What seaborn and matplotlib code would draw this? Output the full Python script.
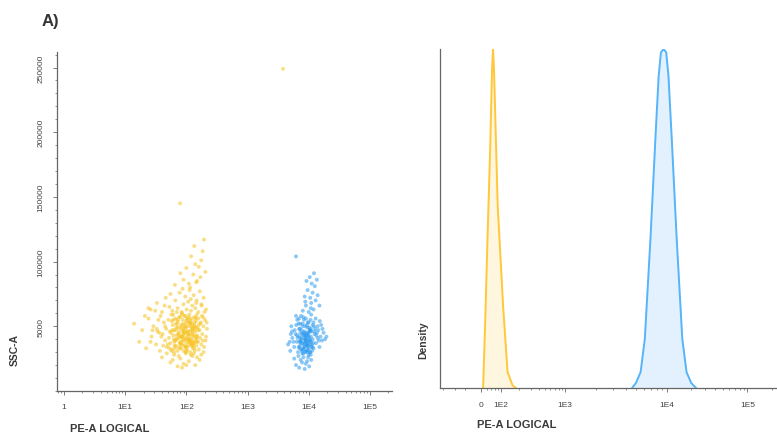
import numpy as np
import pandas as pd
import matplotlib
matplotlib.use("Agg")
import matplotlib.pyplot as plt
import matplotlib.ticker as mticker
import seaborn as sns

# ---- scatter: PE-A intensity vs SSC-A (thousands) ----
yellow_pe = [
    # 18-30k
    40, 55, 63, 72, 80, 90, 98, 110, 125, 140,
    150, 165, 48, 85, 118, 60, 100, 132, 75, 175,
    # 30-45k
    17, 22, 27, 32, 37, 41, 45, 48, 52, 55,
    58, 61, 64, 67, 70, 72, 75, 78, 80, 83,
    85, 88, 90, 92, 95, 97, 100, 102, 105, 108,
    110, 113, 116, 119, 122, 125, 128, 131, 135, 138,
    142, 146, 150, 155, 160, 168, 176, 185, 195, 210,
    50, 62, 74, 86, 98, 112, 126, 57, 69, 81,
    93, 105, 117, 129, 89, 101, 77, 65, 120, 140,
    # 45-60k
    14, 19, 24, 29, 34, 38, 43, 47, 51, 54,
    57, 60, 63, 66, 69, 73, 76, 79, 82, 84,
    87, 90, 93, 96, 99, 103, 106, 109, 112, 115,
    118, 121, 124, 127, 132, 136, 140, 144, 148, 153,
    158, 164, 172, 180, 190, 202, 218, 88, 102, 71,
    94, 108, 124, 79, 61, 136, 115, 84, 99, 67,
    # 60-80k
    26, 33, 40, 46, 53, 59, 66, 72, 78, 84,
    90, 96, 101, 107, 113, 119, 125, 132, 140, 148,
    157, 166, 178, 192, 210, 87, 118, 70, 145, 55,
    # 80-118k
    65, 90, 110, 130, 150, 100, 140, 170, 120, 160,
    185, 135, 195, 80, 175, 115, 205, 145,
    # dense core, second pass
    53, 59, 66, 71, 77, 82, 87, 91, 96, 101,
    106, 111, 117, 123, 129, 136, 143, 151, 159, 56,
    63, 68, 74, 79, 85, 89, 94, 99, 104, 109,
    114, 121, 127, 134, 141, 149, 157, 61, 72, 83,
    92, 103, 114, 126, 138, 58, 69, 81, 95, 108,
    122, 135, 148, 64, 76, 88, 100, 113, 128, 144,
    45, 35, 28, 21, 31, 39, 44, 26, 36, 170,
    182, 198, 206, 188, 176, 42, 33, 24, 215, 192,
    # stragglers
    79, 3800,
]
yellow_ssc_k = [
    26, 22, 28, 19, 25, 21, 29, 23, 27, 20,
    26, 24, 29, 18, 28, 24, 20, 29, 27, 28,
    38, 33, 42, 36, 31, 44, 39, 34, 41, 37,
    32, 43, 38, 35, 40, 31, 44, 37, 33, 42,
    36, 39, 31, 45, 34, 41, 37, 32, 43, 38,
    35, 40, 30, 44, 36, 39, 33, 42, 37, 31,
    40, 35, 43, 38, 32, 41, 36, 39, 34, 42,
    36, 40, 34, 42, 30, 39, 44, 31, 43, 38,
    35, 40, 37, 35, 44, 34, 41, 33, 41, 38,
    52, 47, 56, 50, 46, 58, 53, 48, 55, 46,
    59, 51, 47, 56, 49, 54, 46, 57, 51, 48,
    55, 47, 58, 52, 49, 56, 46, 53, 59, 50,
    47, 55, 52, 48, 57, 50, 46, 54, 59, 49,
    56, 47, 53, 58, 50, 55, 48, 52, 50, 52,
    46, 57, 47, 49, 55, 53, 56, 59, 54, 47,
    63, 68, 61, 72, 65, 62, 70, 64, 76, 61,
    67, 73, 63, 69, 78, 62, 66, 74, 64, 70,
    61, 77, 66, 72, 63, 79, 71, 61, 68, 75,
    82, 86, 83, 90, 85, 95, 98, 88, 104, 96,
    108, 112, 117, 91, 101, 80, 92, 84,
    33, 47, 39, 55, 42, 36, 50, 44, 58, 31,
    46, 40, 53, 35, 49, 43, 57, 38, 51, 45,
    30, 52, 44, 37, 60, 41, 48, 34, 55, 43,
    38, 50, 46, 33, 56, 41, 47, 59, 49, 42,
    39, 45, 52, 36, 48, 54, 40, 33, 50, 44,
    38, 51, 42, 35, 57, 46, 40, 53, 37, 49,
    50, 55, 47, 58, 62, 42, 66, 38, 45, 52,
    44, 61, 39, 57, 67, 35, 48, 64, 53, 30,
    145, 249,
]
blue_pe = [
    # 16-28k
    6200, 7000, 7800, 8600, 9400, 10200, 5800, 11000, 6800, 8200,
    9000, 10800, 7400, 9800,
    # 28-45k
    4600, 5000, 5400, 5800, 6100, 6400, 6700, 7000, 7200, 7400,
    7600, 7800, 8000, 8200, 8400, 8600, 8800, 9000, 9200, 9400,
    9600, 9800, 10000, 10300, 10600, 10900, 11200, 11600, 12000, 12500,
    13200, 14000, 15000, 16500, 7100, 8300, 9500, 10100, 8700, 7700,
    9100, 6900, 10500, 8100, 9300, 11400, 7300, 8900, 6600, 10800,
    # 45-60k
    5200, 5900, 6500, 7000, 7500, 8000, 8500, 9000, 9500, 10000,
    10500, 11000, 11600, 12300, 13000, 14000, 15200, 16800, 8200, 9800,
    7300, 10700, 8800, 12000, 6200,
    # 60-92k
    8000, 9000, 10000, 11000, 12000, 13000, 8600, 9600, 10600, 11600,
    12600, 14000, 9200, 10400, 11200, 12200, 13600, 8800, 15000, 10800,
    # dense core, second pass
    7050, 7450, 7850, 8250, 8650, 9050, 9450, 9850, 10250, 10650,
    11050, 11450, 6850, 7250, 7650, 8050, 8450, 8850, 9250, 9650,
    10050, 10450, 10850, 11850, 6450, 6250, 5650, 5350, 13600, 14600,
    15600, 12800, 7950, 8550, 9150, 9750, 10350, 8350, 8950, 9550,
    7550, 8150, 8750, 9350, 9950, 10550, 11150, 7150, 7750, 9850,
    6950, 12200, 13300, 14400, 17500, 18500, 5100, 4900, 19500, 16000,
    # straggler
    6200,
]
blue_ssc_k = [
    20, 18, 22, 17, 23, 19, 25, 24, 27, 26,
    21, 28, 24, 26,
    36, 31, 41, 34, 44, 38, 30, 42, 35, 39,
    32, 44, 37, 29, 41, 34, 43, 38, 31, 40,
    35, 44, 33, 39, 30, 42, 36, 40, 33, 44,
    37, 41, 34, 39, 38, 36, 37, 41, 30, 40,
    43, 34, 36, 33, 35, 31, 45, 39, 41, 38,
    50, 47, 55, 48, 58, 52, 46, 56, 49, 53,
    47, 59, 51, 46, 56, 50, 54, 48, 57, 45,
    52, 55, 50, 53, 58,
    62, 66, 61, 68, 63, 70, 73, 78, 72, 76,
    81, 74, 85, 88, 83, 91, 86, 69, 66, 64,
    33, 41, 29, 45, 37, 31, 43, 35, 49, 39,
    46, 34, 52, 38, 47, 32, 44, 40, 36, 53,
    42, 30, 48, 37, 43, 51, 38, 46, 45, 39,
    42, 48, 50, 34, 45, 32, 47, 55, 41, 30,
    37, 43, 39, 51, 28, 46, 34, 48, 31, 38,
    56, 50, 43, 47, 45, 40, 44, 38, 42, 51,
    104,
]

# ---- histogram outlines (% of max) ----
yellow_hist_pe = [7, 15, 25, 35, 44, 49, 54, 76, 109, 129, 155, 175]
yellow_hist_pct = [0, 20, 47, 70, 94, 100, 94, 54, 24, 4.7, 0.8, 0]
blue_hist_pe = [4575, 5000, 5555, 6110, 6945, 7765, 8360, 8805, 9350, 9930,
                10570, 11600, 13350, 15660, 17680, 20170, 23200]
blue_hist_pct = [0, 1.5, 4.7, 14.5, 44, 73.5, 92, 99, 100, 99,
                 92, 73.5, 44, 14.5, 4.7, 1.5, 0]

yellow_col = "#F7C424"
blue_col = "#2E9BEF"
yellow_line = "#FFC83A"
blue_line = "#55B4FA"
axis_col = "#666666"
text_col = "#3a3a3a"

sns.set_theme(style="ticks")
plt.rcParams["font.family"] = ["Liberation Sans", "DejaVu Sans"]

fig = plt.figure(figsize=(7.77, 4.35), dpi=100)
ax1 = fig.add_axes([0.0734, 0.0989, 0.4311, 0.7793])
ax2 = fig.add_axes([0.5663, 0.1057, 0.4337, 0.7793])

# ---------------- left: dot plot ----------------
dots = pd.concat([
    pd.DataFrame({"pe": yellow_pe, "ssc": np.array(yellow_ssc_k) * 1000, "sample": "yellow"}),
    pd.DataFrame({"pe": blue_pe, "ssc": np.array(blue_ssc_k) * 1000, "sample": "blue"}),
])
sns.scatterplot(data=dots, x="pe", y="ssc", hue="sample",
                palette={"yellow": yellow_col, "blue": blue_col},
                s=8, linewidth=0, alpha=0.55, legend=False, ax=ax1)
ax1.set_xscale("log")
ax1.set_xlim(0.77, 2.3e5)
ax1.set_ylim(0, 262000)
ax1.set_xticks([1, 10, 100, 1000, 1e4, 1e5])
ax1.set_xticklabels(["1", "1E1", "1E2", "1E3", "1E4", "1E5"])
ax1.xaxis.set_minor_locator(mticker.LogLocator(base=10, subs=np.arange(2, 10)))
ax1.xaxis.set_minor_formatter(mticker.NullFormatter())
ax1.set_yticks([50000, 100000, 150000, 200000, 250000])
ax1.set_yticklabels(["5000", "100000", "150000", "200000", "250000"],
                    rotation=90, va="center")
ax1.yaxis.set_minor_locator(mticker.MultipleLocator(10000))

ax1.set_xlabel("PE-A LOGICAL", fontsize=8, fontweight="bold", color=text_col)
ax1.xaxis.set_label_coords(0.158, -0.094)
ax1.set_ylabel("SSC-A", fontsize=7.5, fontweight="bold", color=text_col)
ax1.yaxis.set_label_coords(-0.112, 0.124)

# ---------------- right: histogram overlay ----------------
# logicle-like display: linear near 0, log decades above
SCALE_V = np.array([-400, 0, 100, 1000, 1e4, 1e5, 4e5])
SCALE_G = np.arcsinh(SCALE_V / 50.0)
SCALE_P = np.array([-52, 0, 20, 85, 188, 270, 320])


def fwd(v):
    g = np.arcsinh(np.asarray(v, dtype=float) / 50.0)
    return np.interp(g, SCALE_G, SCALE_P)


def inv(p):
    return 50.0 * np.sinh(np.interp(np.asarray(p, dtype=float), SCALE_P, SCALE_G))


ax2.set_xscale("function", functions=(fwd, inv))

for pe, pct, line, fill in [(yellow_hist_pe, yellow_hist_pct, yellow_line, "#FFF6DF"),
                            (blue_hist_pe, blue_hist_pct, blue_line, "#E2F1FD")]:
    ax2.fill_between(pe, pct, 0, color=fill, linewidth=0, zorder=1)
    sns.lineplot(x=pe, y=pct, sort=False, estimator=None, color=line,
                 linewidth=1.4, ax=ax2, zorder=2)

ax2.set_xlim(-230, 2.3e5)
ax2.set_ylim(0, 100)
ax2.set_xticks([0, 100, 1000, 1e4, 1e5])
ax2.set_xticklabels(["0", "1E2", "1E3", "1E4", "1E5"])
minor = [-200, -100, -50, 20, 40, 60, 80] + [m * d for d in (100, 1000, 10000) for m in range(2, 10)] + [2e5]
ax2.xaxis.set_minor_locator(mticker.FixedLocator(minor))
ax2.set_yticks([])
ax2.set_xlabel("PE-A LOGICAL", fontsize=8, fontweight="bold", color=text_col)
ax2.xaxis.set_label_coords(0.228, -0.091)
ax2.set_ylabel("Density", fontsize=7.5, fontweight="bold", color=text_col)
ax2.yaxis.set_label_coords(-0.036, 0.145)

for ax in (ax1, ax2):
    sns.despine(ax=ax)
    for side in ("left", "bottom"):
        ax.spines[side].set_color(axis_col)
        ax.spines[side].set_linewidth(0.9)
    ax.tick_params(which="major", length=3, width=0.6, color=axis_col,
                   labelsize=6, labelcolor="#444444", pad=6)
    ax.tick_params(which="minor", length=1.6, width=0.5, color=axis_col)

fig.text(0.054, 0.951, "A)", fontsize=12, fontweight="bold", color="#333333",
         va="center", ha="left")

fig.savefig("out.png", dpi=100)
